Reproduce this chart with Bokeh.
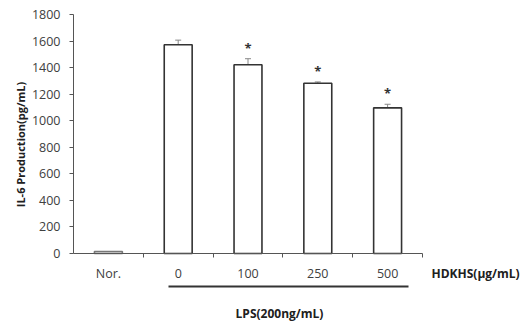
import math
from bokeh.plotting import figure
from bokeh.models import (ColumnDataSource, Range1d, FixedTicker, Whisker, TeeHead,
                          Label, Arrow)
from bokeh.core.properties import value
from bokeh.embed import file_html
from bokeh.resources import INLINE

categories = ["Nor.", "0", "100", "250", "500"]
il6 = [15, 1572, 1422, 1282, 1097]
err = [0, 35, 45, 10, 27]
signif = ["", "", "*", "*", "*"]
y_ticks = [0, 200, 400, 600, 800, 1000, 1200, 1400, 1600, 1800]
x_title = "HDKHS(μg/mL)"
group_title = "LPS(200ng/mL)"
y_title = "IL-6 Production(pg/mL)"

FONT = "Open Sans"
W, H = 525, 325
AX_T = 14                          # y of the top tick (1800) in page pixels
AX_L, AX_R, AX_B = 73, 422, 253    # axis positions in page pixels
YMAX = 1800
n = len(categories)
px_y = (AX_B - AX_T) / YMAX
px_x = (AX_R - AX_L) / n
y_start = -(H - AX_B) / px_y
y_end = YMAX + AX_T / px_y
x_start = -AX_L / px_x
x_end = n + (W - AX_R) / px_x

xs = [i + 0.5 for i in range(n)]
upper = [v + e for v, e in zip(il6, err)]
line_cols = ["#777777"] + ["#333333"] * (n - 1)

src = ColumnDataSource(dict(x=xs, top=il6, upper=upper, sig=signif, lc=line_cols))

p = figure(width=W, height=H, output_backend="svg", toolbar_location=None,
           x_range=Range1d(x_start, x_end), y_range=Range1d(y_start, y_end),
           min_border_left=0, min_border_right=0, min_border_top=0,
           min_border_bottom=0)
p.outline_line_color = None
p.grid.visible = False
p.background_fill_color = "white"

p.vbar(x="x", top="top", bottom=0, width=0.4, source=src, fill_color="white",
       line_color="lc", line_width=1.6)

wh = Whisker(base="x", upper="upper", lower="top", source=src, line_color="#888888",
             line_width=1, upper_head=TeeHead(size=6, line_color="#888888", line_width=1),
             lower_head=None)
p.add_layout(wh)

p.text(x="x", y="upper", text="sig", source=src, text_align="center",
       text_baseline="middle", y_offset=-11, text_font=value(FONT),
       text_font_style="bold", text_font_size="13px", text_color="#333333")

# axes
ya = p.yaxis[0]
ya.fixed_location = 0
ya.bounds = (0, YMAX)
ya.ticker = FixedTicker(ticks=y_ticks)
ya.minor_tick_line_color = None
ya.major_tick_in = 0
ya.major_tick_out = 4
ya.axis_line_color = "#555555"
ya.major_tick_line_color = "#555555"
ya.major_label_text_font = FONT
ya.major_label_text_font_size = "12.5px"
ya.major_label_text_color = "#404040"
ya.major_label_standoff = 9

xa = p.xaxis[0]
xa.fixed_location = 0
xa.bounds = (0, n)
xa.ticker = FixedTicker(ticks=xs, minor_ticks=list(range(1, n + 1)))
xa.major_label_overrides = {x: c for x, c in zip(xs, categories)}
xa.major_tick_line_color = None
xa.major_tick_in = 0
xa.major_tick_out = 0
xa.minor_tick_in = 0
xa.minor_tick_out = 4
xa.minor_tick_line_color = "#555555"
xa.axis_line_color = "#555555"
xa.major_label_text_font = FONT
xa.major_label_text_font_size = "12.5px"
xa.major_label_text_color = "#404040"
xa.major_label_standoff = 7

# annotations (screen units relative to the frame's bottom-left corner)
lab = dict(x_units="screen", y_units="screen", text_font=FONT, text_font_size="12px",
           text_font_style="bold", text_color="#202020", text_baseline="middle")
p.add_layout(Label(x=20, y=H - 144, text=y_title, angle=math.pi / 2, text_align="center",
                   **{**lab, "text_font_size": "11px"}))
p.add_layout(Label(x=431, y=H - 273, text=x_title, text_align="left", **lab))
p.add_layout(Label(x=279, y=H - 313, text=group_title, text_align="center", **lab))
p.add_layout(Arrow(x_start=168, y_start=H - 286, x_end=408, y_end=H - 286, end=None,
                   start_units="screen", end_units="screen",
                   line_color="#333333", line_width=1.8))

open("out.html", "w").write(file_html(p, INLINE))
